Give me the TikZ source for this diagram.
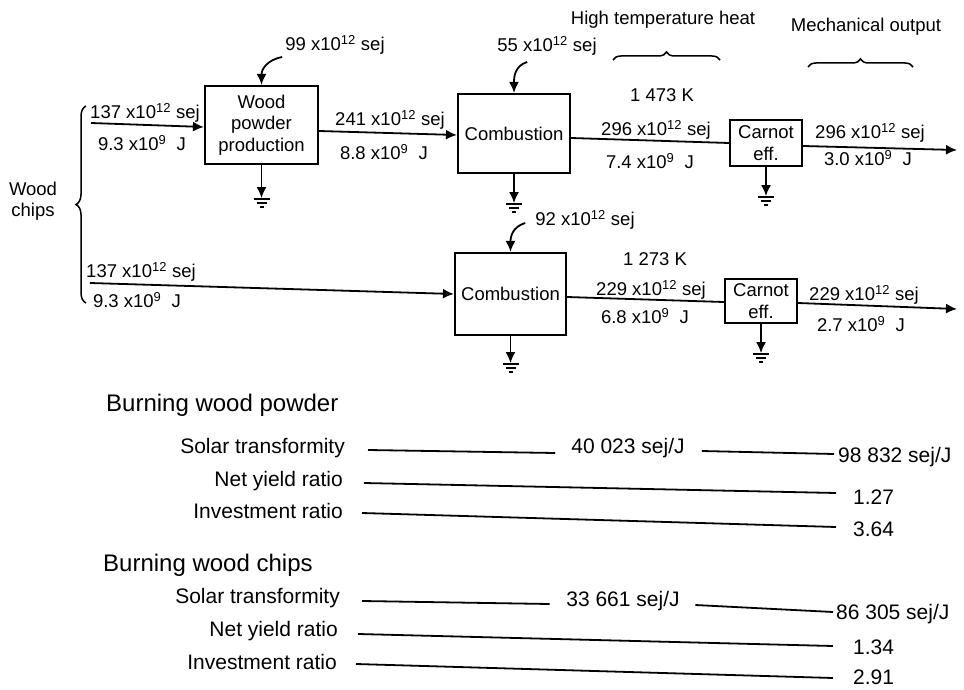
\documentclass[tikz,border=0pt]{standalone}
\usepackage{fontspec}
\setmainfont{Liberation Sans}
\usetikzlibrary{arrows.meta,decorations.pathreplacing}
\newcommand\lblfont{\fontsize{18.5}{21.5}\selectfont}
\newcommand\itemfont{\fontsize{21}{24}\selectfont}
\newcommand\headfont{\fontsize{24}{28}\selectfont}
\newcommand\sx[1]{x10\textsuperscript{#1}}
\tikzset{
  box/.style={draw,line width=2.2pt,inner sep=0pt,align=center,font=\lblfont},
  lbl/.style={inner sep=0pt,font=\lblfont},
  itm/.style={inner sep=0pt,font=\itemfont},
  hd/.style={inner sep=0pt,font=\headfont,anchor=west},
  arr/.style={line width=1.8pt,-{Latex[length=11pt,width=10pt]}},
  ln/.style={line width=1.8pt},
  gbrace/.style={decorate,decoration={brace,amplitude=#1},line width=1.5pt},
  ground/.pic={\draw[line width=1.4pt] (-8,0)--(8,0) (-5,4)--(5,4) (-2,8)--(2,8);}
}
\begin{document}
\begin{tikzpicture}[x=1pt,y=-1pt]
\useasboundingbox[fill=white] (0,0) rectangle (964,690);

% boxes
\node[box,minimum width=113pt,minimum height=78pt] (wp) at (261.5,125) {Wood\\powder\\production};
\node[box,minimum width=112pt,minimum height=79pt] (c1) at (514,133.5) {Combustion};
\node[box,minimum width=111pt,minimum height=82pt] (c2) at (510.5,294) {Combustion};
\node[box,minimum width=72pt,minimum height=46pt] (k1) at (766,143) {Carnot\\eff.};
\node[box,minimum width=72pt,minimum height=44pt] (k2) at (761,301) {Carnot\\eff.};

% labels
\node[lbl] (l99) at (335,45) {99 \sx{12} sej};
\node[lbl] (l55) at (547,46) {55 \sx{12} sej};
\node[lbl] (l92) at (585,220) {92 \sx{12} sej};
\node[lbl] (hth) at (663,20) {High temperature heat};
\node[lbl] (mo) at (866,27) {Mechanical output};
\node[lbl] (t1) at (662,95) {1 473 K};
\node[lbl] (t2) at (655,259) {1 273 K};
\node[lbl] (a1) at (145,113) {137 \sx{12} sej};
\node[lbl] (b1) at (142,143) {9.3 \sx{9}\ \ J};
\node[lbl] (a2) at (390,120) {241 \sx{12} sej};
\node[lbl] (b2) at (384,152) {8.8 \sx{9}\ \ J};
\node[lbl] (a3) at (656,130) {296 \sx{12} sej};
\node[lbl] (b3) at (650,161) {7.4 \sx{9}\ \ J};
\node[lbl] (a4) at (870,133) {296 \sx{12} sej};
\node[lbl] (b4) at (868,158) {3.0 \sx{9}\ \ J};
\node[lbl] (a5) at (141,272) {137 \sx{12} sej};
\node[lbl] (b5) at (137,300) {9.3 \sx{9}\ \ J};
\node[lbl] (a6) at (651,290) {229 \sx{12} sej};
\node[lbl] (b6) at (645,316) {6.8 \sx{9}\ \ J};
\node[lbl] (a7) at (864,295) {229 \sx{12} sej};
\node[lbl] (b7) at (861,324) {2.7 \sx{9}\ \ J};
\node[lbl,align=center] (wc) at (33,201) {Wood\\chips};

% free ends
\coordinate (in1) at (91,123);
\coordinate (in2) at (90,283);
\coordinate (out1) at (957,150);
\coordinate (out2) at (957,309);

% connectors
\draw[arr] (in1) -- ([yshift=-2pt]wp.west);
\draw[arr] ([yshift=-6pt]wp.east) -- ([yshift=-1.5pt]c1.west);
\draw[ln] ([yshift=-4.5pt]c1.east) -- (k1.west);
\draw[arr] ([yshift=-3pt]k1.east) -- (out1);
\draw[arr] (in2) -- (c2.west);
\draw[ln] ([yshift=-3pt]c2.east) -- ([yshift=-1pt]k2.west);
\draw[arr] ([yshift=-2pt]k2.east) -- (out2);

% curved inputs
\draw[arr] ([shift={(-3,12)}]l99.west) .. controls +(-15,3) and +(0,-16) .. (wp.north);
\draw[arr] ([shift={(30,16)}]l55.west) .. controls +(-13,4) and +(0,-15) .. (c1.north);
\draw[arr] ([shift={(-10,3)}]l92.west) .. controls +(-13,4) and +(0,-15) .. (c2.north);

% grounds
\draw[arr] (wp.south) -- ++(0,33) coordinate (g1);
\pic at ([yshift=-1pt]g1) {ground};
\draw[arr] (c1.south) -- ++(0,29) coordinate (g2);
\pic at ([yshift=-1pt]g2) {ground};
\draw[arr] (k1.south) -- ++(0,29) coordinate (g3);
\pic at ([yshift=-1pt]g3) {ground};
\draw[arr] (c2.south) -- ++(0,27) coordinate (g4);
\pic at ([yshift=-1pt]g4) {ground};
\draw[arr] (k2.south) -- ++(0,29) coordinate (g5);
\pic at ([yshift=-1pt]g5) {ground};

% braces
\draw[gbrace=10pt] (86,303) -- (86,106);
\draw[gbrace=8pt] (613,60) -- (720,60);
\draw[gbrace=8pt] (808,67) -- (913,67);

% summary
\node[hd] (h1) at (106,405) {Burning wood powder};
\node[itm,anchor=east] (s1) at (345,448) {Solar transformity};
\node[itm,anchor=east] (n1) at (343,481) {Net yield ratio};
\node[itm,anchor=east] (i1) at (343,511) {Investment ratio};
\node[itm] (m1) at (628,448) {40 023 sej/J};
\node[itm,anchor=west] (v1) at (838,457) {98 832 sej/J};
\node[itm,anchor=west] (v2) at (853,497) {1.27};
\node[itm,anchor=west] (v3) at (853,529) {3.64};
\node[hd] (h2) at (103,565) {Burning wood chips};
\node[itm,anchor=east] (s2) at (340,598) {Solar transformity};
\node[itm,anchor=east] (n2) at (338,631) {Net yield ratio};
\node[itm,anchor=east] (i2) at (337,662) {Investment ratio};
\node[itm] (m2) at (623,601) {33 661 sej/J};
\node[itm,anchor=west] (w1) at (836,614) {86 305 sej/J};
\node[itm,anchor=west] (w2) at (853,647) {1.34};
\node[itm,anchor=west] (w3) at (853,677) {2.91};

\draw[ln] ([shift={(23,2)}]s1.east) -- ([shift={(-16,5)}]m1.west);
\draw[ln] ([shift={(17,3)}]m1.east) -- ([shift={(-4,-3)}]v1.west);
\draw[ln] ([shift={(21,2)}]n1.east) -- ([shift={(-17,-4)}]v2.west);
\draw[ln] ([shift={(19,2)}]i1.east) -- ([shift={(-17,-2)}]v3.west);
\draw[ln] ([shift={(22,3)}]s2.east) -- ([shift={(-16.5,3)}]m2.west);
\draw[ln] ([shift={(15.5,4)}]m2.east) -- ([shift={(-3,-2)}]w1.west);
\draw[ln] ([shift={(20,3)}]n2.east) -- ([shift={(-20,-1)}]w2.west);
\draw[ln] ([shift={(19,2)}]i2.east) -- ([shift={(-20,1)}]w3.west);
\end{tikzpicture}
\end{document}
